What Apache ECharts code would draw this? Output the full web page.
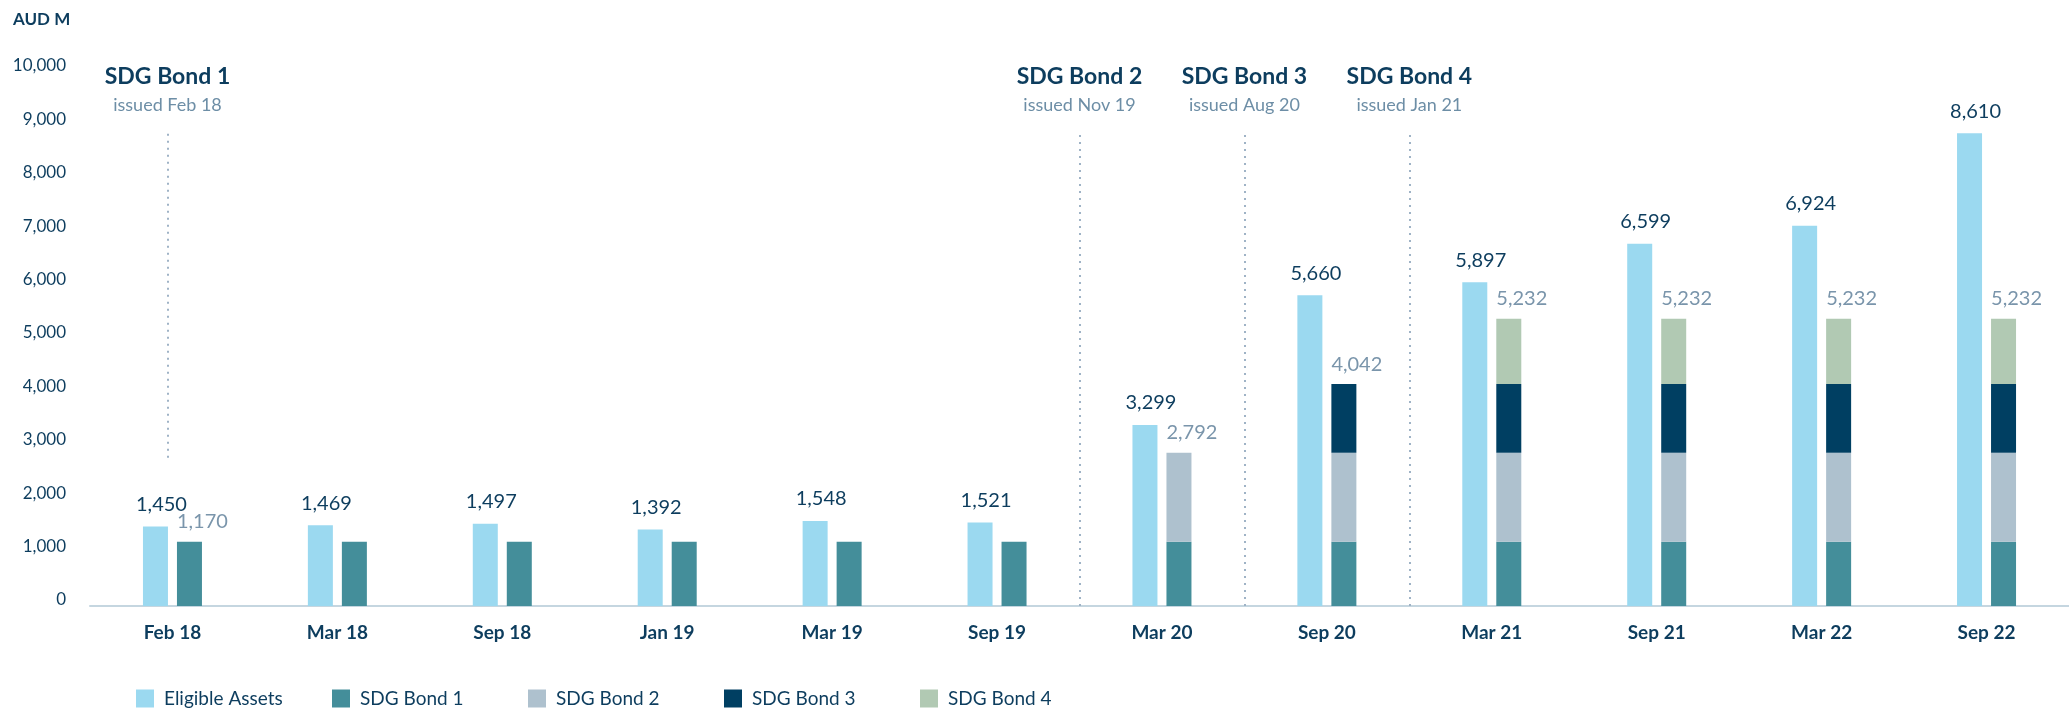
<!DOCTYPE html>
<html>
<head>
<meta charset="utf-8">
<script src="https://cdn.jsdelivr.net/npm/echarts@6/dist/echarts.min.js"></script>
<style>
  html, body { margin: 0; padding: 0; background: #fff; }
  #chart { width: 2069px; height: 709px; }
</style>
</head>
<body>
<div id="chart"></div>
<script>
// categories (report dates)
const categories = ['Feb 18', 'Mar 18', 'Sep 18', 'Jan 19', 'Mar 19', 'Sep 19',
                    'Mar 20', 'Sep 20', 'Mar 21', 'Sep 21', 'Mar 22', 'Sep 22'];
// eligible asset pool, AUD M
const eligible = [1450, 1469, 1497, 1392, 1548, 1521, 3299, 5660, 5897, 6599, 6924, 8610];
// outstanding bonds, AUD M (stacked)
const bond1 = [1170, 1170, 1170, 1170, 1170, 1170, 1170, 1170, 1170, 1170, 1170, 1170];
const bond2 = [null, null, null, null, null, null, 1622, 1622, 1622, 1622, 1622, 1622];
const bond3 = [null, null, null, null, null, null, null, 1250, 1250, 1250, 1250, 1250];
const bond4 = [null, null, null, null, null, null, null, null, 1190, 1190, 1190, 1190];
// totals printed above the bond stack (null = no label)
const bondTotals = [1170, null, null, null, null, null, 2792, 4042, 5232, 5232, 5232, 5232];
// bond issue markers: position on the category scale, bottom of the dotted line
const issueNames = ['SDG Bond 1', 'SDG Bond 2', 'SDG Bond 3', 'SDG Bond 4'];
const issueDates = ['issued Feb 18', 'issued Nov 19', 'issued Aug 20', 'issued Jan 21'];
const issueAt = [0.47, 6, 7, 8];
const issueFrom = [2700, 0, 0, 0];

const seriesNames = ['Eligible Assets', 'SDG Bond 1', 'SDG Bond 2', 'SDG Bond 3', 'SDG Bond 4'];
const navy = '#0d3d5e';
const grey = '#7a95ab';
const font = 'Lato, "Open Sans", sans-serif';
const colors = ['#9bd9f0', '#448e9a', '#aec1ce', '#003f62', '#b1c9b3'];
const fmt = v => Number(v).toLocaleString('en-US');

const bondSeries = [bond1, bond2, bond3, bond4];
function bondData(k) {
  return bondSeries[k].map((v, i) => {
    if (v == null) return null;
    const isTop = bondSeries.slice(k + 1).every(s => s[i] == null);
    if (isTop && bondTotals[i] != null) {
      return { value: v, label: { show: true, formatter: fmt(bondTotals[i]) } };
    }
    return v;
  });
}

const bondLabel = {
  show: false,
  position: [0, -10],
  align: 'left',
  verticalAlign: 'bottom',
  color: grey,
  fontSize: 20,
  fontFamily: font
};

const series = [{
  name: seriesNames[0],
  type: 'bar',
  barWidth: 25,
  barGap: '36%',
  itemStyle: { color: colors[0] },
  label: {
    show: true, position: 'top', distance: 12, offset: [6, 0],
    color: navy, fontSize: 20, fontFamily: font, formatter: p => fmt(p.value)
  },
  data: eligible
}];
bondSeries.forEach((s, k) => {
  series.push({
    name: seriesNames[k + 1],
    type: 'bar',
    stack: 'bonds',
    barWidth: 25,
    barGap: '36%',
    itemStyle: { color: colors[k + 1] },
    label: bondLabel,
    data: bondData(k)
  });
});

// dotted issue lines with their captions
series.push({
  type: 'line',
  xAxisIndex: 1,
  data: [],
  silent: true,
  markLine: {
    symbol: ['none', 'none'],
    lineStyle: { color: '#9fb3c6', type: [2, 5], width: 2 },
    label: {
      show: true,
      position: 'end',
      distance: 16,
      formatter: p => '{t|' + p.data.tname + '}\n{s|' + p.data.sname + '}',
      rich: {
        t: { fontFamily: font, fontWeight: 'bold', fontSize: 23, color: navy, lineHeight: 30, align: 'center' },
        s: { fontFamily: font, fontSize: 18, color: '#6d8ea6', lineHeight: 26, align: 'center' }
      }
    },
    data: issueNames.map((n, i) => [
      { coord: [issueAt[i], issueFrom[i]] },
      { coord: [issueAt[i], 8600], tname: n, sname: issueDates[i] }
    ])
  }
});

// one legend per series so the items sit on an even spacing
const legends = seriesNames.map((n, i) => ({
  data: [n],
  left: 131 + i * 196, top: 684,
  icon: 'rect', itemWidth: 18, itemHeight: 18,
  textStyle: { color: navy, fontSize: 19, fontFamily: font, padding: [0, 0, 0, 5] }
}));

const chart = echarts.init(document.getElementById('chart'));
chart.setOption({
  animation: false,
  textStyle: { fontFamily: font },
  graphic: [{
    type: 'text', left: 13, top: 11,
    style: { text: 'AUD M', font: 'bold 17px ' + font, fill: navy }
  }],
  legend: legends,
  // grid 0 holds the bars, grid 1 only carries the tick labels
  grid: [
    { left: 90, right: 0, top: 57, bottom: 103 },
    { left: 90, right: 0, top: 66, bottom: 109 }
  ],
  xAxis: [{
    type: 'category',
    data: categories,
    axisLine: { lineStyle: { color: '#c5d6e0', width: 2 } },
    axisTick: { show: false },
    axisLabel: { color: navy, fontWeight: 'bold', fontSize: 19, fontFamily: font, margin: 17 }
  }, {
    type: 'value', min: 0, max: 12, show: false
  }, {
    type: 'value', gridIndex: 1, min: 0, max: 1, show: false
  }],
  yAxis: [{
    type: 'value', min: 0, max: 10000, interval: 1000,
    splitLine: { show: false },
    axisLine: { show: false },
    axisTick: { show: false },
    axisLabel: { show: false }
  }, {
    type: 'value', gridIndex: 1, min: 0, max: 10000, interval: 1000,
    splitLine: { show: false },
    axisLine: { show: false },
    axisTick: { show: false },
    axisLabel: { color: navy, fontSize: 17, fontFamily: font, margin: 24, formatter: v => fmt(v) }
  }],
  series: series
});
</script>
</body>
</html>
